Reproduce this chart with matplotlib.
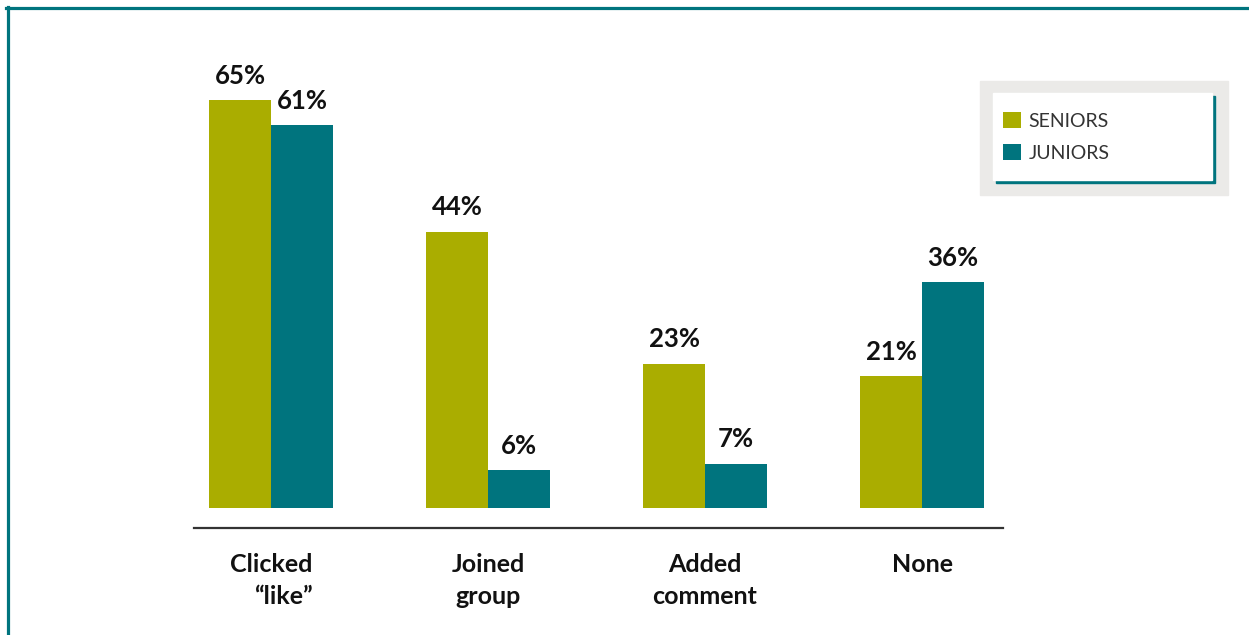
import matplotlib.pyplot as plt
from matplotlib.patches import Rectangle
from matplotlib.lines import Line2D
import numpy as np

categories = ["Clicked\n\u201clike\u201d", "Joined\ngroup", "Added\ncomment", "None"]
seniors = [65, 44, 23, 21]
juniors = [61, 6, 7, 36]
series_names = ["SENIORS", "JUNIORS"]

olive = "#aaad00"
teal = "#00747e"

plt.rcParams['font.family'] = ['Lato', 'DejaVu Sans']

W, H = 1249, 635
fig = plt.figure(figsize=(W / 100, H / 100), dpi=100)

# axes placed in pixel terms: x 194..1003, y 528..69
ax = fig.add_axes([194 / W, (H - 528) / H, (1003 - 194) / W, (528 - 69) / H])

x = np.arange(len(categories))
width = 0.286
b1 = ax.bar(x - width / 2, seniors, width, color=olive, label=series_names[0])
b2 = ax.bar(x + width / 2, juniors, width, color=teal, label=series_names[1])

for bars in (b1, b2):
    for rect in bars:
        ax.annotate(f"{rect.get_height():.0f}%",
                    (rect.get_x() + rect.get_width() / 2, rect.get_height()),
                    xytext=(0, 12), textcoords="offset points",
                    ha="center", va="baseline", fontsize=18.5, fontweight="bold",
                    color="#111111")

ax.set_xlim(-0.355, 3.373)
ax.set_ylim(-3.2, 70)
ax.set_xticks(x)
ax.set_xticklabels(categories, fontsize=18, fontweight="bold", color="#111111",
                   linespacing=1.5)
ax.get_xticklabels()[0].set_multialignment("right")
ax.tick_params(axis="x", length=0, pad=18)
ax.set_yticks([])
for s in ("left", "right", "top"):
    ax.spines[s].set_visible(False)
ax.spines["bottom"].set_color("#333333")
ax.spines["bottom"].set_linewidth(1.6)

# legend box: grey panel, white box with teal shadow
fig.patches.append(Rectangle((980 / W, (H - 195) / H), 248 / W, 114 / H,
                             transform=fig.transFigure, color="#ebeae8", zorder=0))
fig.patches.append(Rectangle((996 / W, (H - 183) / H), 219 / W, 87 / H,
                             transform=fig.transFigure, color=teal, zorder=1))
fig.patches.append(Rectangle((993 / W, (H - 180) / H), 219 / W, 87 / H,
                             transform=fig.transFigure, color="white", zorder=2))
leg = fig.legend(handles=[b1, b2], labels=series_names, loc="upper left",
                 bbox_to_anchor=(1003 / W, (H - 112) / H), frameon=False,
                 fontsize=14, handlelength=0.9, handleheight=0.9,
                 handletextpad=0.42, labelspacing=0.72, borderpad=0,
                 borderaxespad=0)
for t in leg.get_texts():
    t.set_color("#333333")
leg.set_zorder(3)

# figure border (top and left)
fig.lines.append(Line2D([6 / W, 1], [(H - 7.5) / H, (H - 7.5) / H],
                        transform=fig.transFigure, color=teal, linewidth=2.3))
fig.lines.append(Line2D([7.5 / W, 7.5 / W], [0, (H - 6.5) / H],
                        transform=fig.transFigure, color=teal, linewidth=2.3))

fig.savefig("out.png", dpi=100)
